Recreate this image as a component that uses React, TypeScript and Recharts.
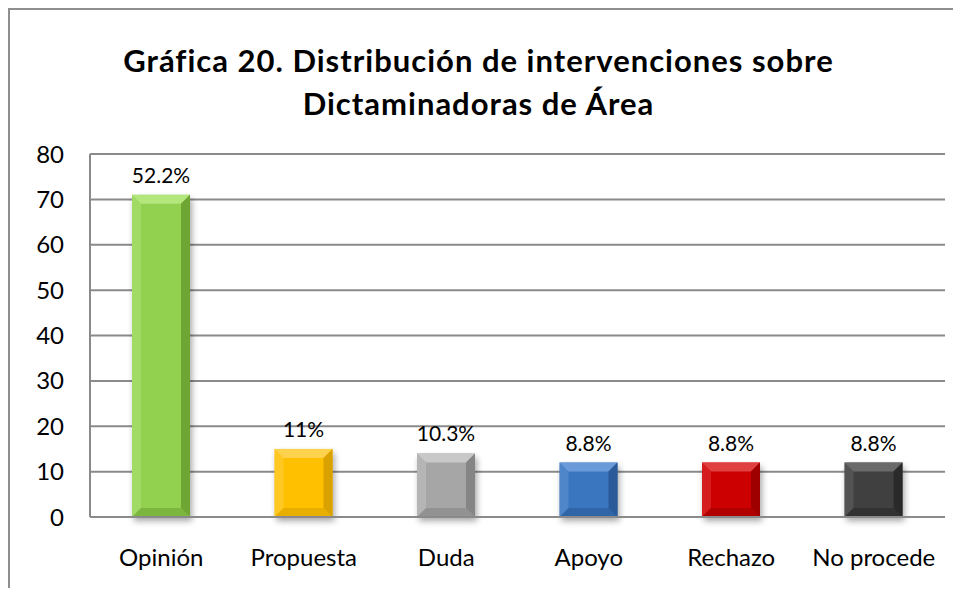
import React from "react";
import { BarChart, Bar, XAxis, YAxis, CartesianGrid, LabelList, Cell } from "recharts";

const categories = ["Opinión", "Propuesta", "Duda", "Apoyo", "Rechazo", "No procede"];
const counts = [71, 15, 14, 12, 12, 12];
const percentLabels = ["52.2%", "11%", "10.3%", "8.8%", "8.8%", "8.8%"];
const yTicks = [0, 10, 20, 30, 40, 50, 60, 70, 80];
const titleLines = ["Gráfica 20. Distribución de intervenciones sobre", "Dictaminadoras de Área"];

const barBase = ["#92D050", "#FFC000", "#A6A6A6", "#3A75C0", "#CC0000", "#404040"];
const barLight = ["#B4E67E", "#FFD24D", "#C8C8C8", "#6A9BD8", "#E04040", "#6A6A6A"];
const barDark = ["#6FA532", "#D9A200", "#858585", "#2A5A98", "#9E0000", "#2A2A2A"];

const data = categories.map((c, i) => ({ name: c, value: counts[i], label: percentLabels[i] }));

const FONT = "Lato, 'Open Sans', sans-serif";
const GRID = "#8A8A8A";

const BevelBar = (props: any) => {
  const { x, y, width: w, height: h, index } = props;
  if (!w || !h) return null;
  const b = Math.min(9, w / 6, h / 3);
  const base = barBase[index];
  const light = barLight[index];
  const dark = barDark[index];
  const fid = `shadow-${index}`;
  return (
    <g>
      <defs>
        <filter id={fid} x="-30%" y="-30%" width="160%" height="160%">
          <feGaussianBlur stdDeviation="3" />
        </filter>
      </defs>
      <rect x={x + 2} y={y + 4} width={w} height={h} fill="rgba(0,0,0,0.35)" filter={`url(#${fid})`} />
      <rect x={x} y={y} width={w} height={h} fill={base} />
      <polygon points={`${x},${y} ${x + w},${y} ${x + w - b},${y + b} ${x + b},${y + b}`} fill={light} />
      <polygon points={`${x},${y} ${x + b},${y + b} ${x + b},${y + h - b} ${x},${y + h}`} fill={light} opacity={0.45} />
      <polygon points={`${x + w},${y} ${x + w - b},${y + b} ${x + w - b},${y + h - b} ${x + w},${y + h}`} fill={dark} />
      <polygon points={`${x},${y + h} ${x + b},${y + h - b} ${x + w - b},${y + h - b} ${x + w},${y + h}`} fill={dark} opacity={0.6} />
    </g>
  );
};

export default function App() {
  return (
    <div style={{ position: "relative", width: 945, height: 580, background: "#fff", fontFamily: FONT }}>
      <div style={{ position: "absolute", left: 0, top: 0, width: 2, height: 580, background: "#8E8E8E" }} />
      <div style={{ position: "absolute", left: 0, top: 0, width: 945, height: 2, background: "#8E8E8E" }} />
      <div
        style={{
          position: "absolute",
          left: 0,
          top: 31,
          width: 945,
          textAlign: "center",
          fontWeight: 700,
          fontSize: 31,
          letterSpacing: "1px",
          lineHeight: "43px",
          color: "#000",
          transform: "translateX(-2px)",
        }}
      >
        {titleLines.map((t, i) => (
          <div key={i}>{t}</div>
        ))}
      </div>
      <div style={{ position: "absolute", left: 0, top: 0 }}>
        <BarChart width={945} height={580} data={data} margin={{ top: 146, right: 8, bottom: 11, left: 0 }}>
          <CartesianGrid vertical={false} stroke={GRID} strokeWidth={2} />
          <XAxis
            dataKey="name"
            tickLine={false}
            axisLine={{ stroke: GRID, strokeWidth: 2 }}
            tick={{ fill: "#000", fontSize: 24, fontFamily: FONT }}
            tickSize={6}
            tickMargin={26}
            height={60}
            interval={0}
          />
          <YAxis
            domain={[0, 80]}
            ticks={yTicks}
            tickLine={false}
            axisLine={{ stroke: GRID, strokeWidth: 2 }}
            tick={{ fill: "#000", fontSize: 24, fontFamily: FONT }}
            tickSize={6}
            tickMargin={20}
            width={82}
            interval={0}
          />
          <Bar dataKey="value" barSize={58} isAnimationActive={false} shape={<BevelBar />}>
            {data.map((d, i) => (
              <Cell key={i} fill={barBase[i]} />
            ))}
            <LabelList dataKey="label" position="top" offset={12} style={{ fill: "#000", fontSize: 21, fontFamily: FONT }} />
          </Bar>
        </BarChart>
      </div>
    </div>
  );
}
